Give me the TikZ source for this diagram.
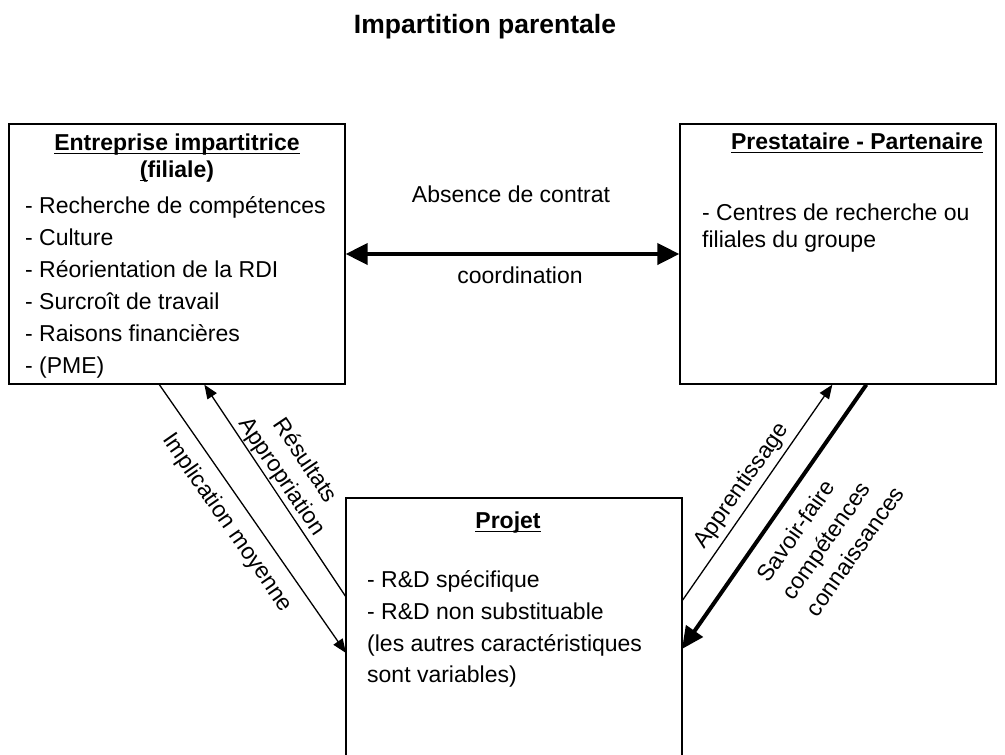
\documentclass[tikz,border=0pt]{standalone}
\usepackage{fontspec}
\setmainfont{Liberation Sans}
\usetikzlibrary{arrows.meta}
\newcommand\myul[1]{\setbox0=\hbox{#1}\rlap{\rule[-4.3pt]{\wd0}{1.8pt}}\box0}
\begin{document}
\begin{tikzpicture}[x=1pt,y=-1pt,
  every node/.style={inner sep=0pt, font=\fontsize{23}{28}\selectfont},
  box/.style={draw, line width=1.3pt, inner sep=0pt},
  txt/.style={anchor=base west},
  hdr/.style={anchor=base, font=\fontsize{23}{28}\selectfont\bfseries},
  thinarrow/.style={line width=1.3pt, -{Triangle[length=14pt,width=11pt]}},
  thickarrow/.style={line width=4pt, -{Triangle[length=22pt,width=20pt]}},
  boththick/.style={line width=4pt, {Triangle[length=22pt,width=21pt]}-{Triangle[length=22pt,width=21pt]}}]
\useasboundingbox (0,0) rectangle (1005,755);
\node[anchor=base, font=\fontsize{26.5}{30}\selectfont\bfseries] (title) at (485,33) {Impartition parentale};

% boxes
\node[box, minimum width=336pt, minimum height=260pt] (ent) at (177,254) {};
\node[box, minimum width=316pt, minimum height=260pt] (pre) at (838,254) {};
\node[inner sep=0pt, outer sep=0pt, minimum width=336pt, minimum height=257pt, anchor=north west] (proj) at (346,498) {};
\draw[line width=1.3pt] (proj.south west) -- (proj.north west) -- (proj.north east) -- (proj.south east);

% left box text
\node[hdr] (entH1) at (177,150) {\myul{Entreprise impartitrice}};
\node[hdr] (entH2) at (177,177) {\myul{(}filiale)};
\foreach \t [count=\i] in {- Recherche de compétences, - Culture, - Réorientation de la RDI, - Surcroît de travail, - Raisons financières, - (PME)}
  \node[txt] (entI\i) at (25,181+32*\i) {\t};

% right box text
\node[hdr] (preH) at (857,149) {\myul{Prestataire - Partenaire}};
\node[txt] (preI1) at (702,220) {- Centres de recherche ou};
\node[txt] (preI2) at (702,247) {filiales du groupe};

% project text
\node[hdr] (projH) at (508,528) {\myul{Projet}};
\node[txt] (projI1) at (367,587) {- R\&D spécifique};
\node[txt] (projI2) at (367,619) {- R\&D non substituable};
\node[txt] (projI3) at (367,651) {(les autres caractéristiques};
\node[txt] (projI4) at (367,682) {sont variables)};

% middle
\node[anchor=base] (abs) at (511,202) {Absence de contrat};
\node[anchor=base] (coord) at (520,283) {coordination};
\draw[boththick] (ent.east) -- (pre.west);

% diagonal arrows
\draw[thinarrow] ([xshift=151pt]ent.south west) -- ([yshift=-155pt]proj.north west);
\draw[thinarrow] ([yshift=-99pt]proj.north west) -- ([xshift=196pt]ent.south west);
\draw[thinarrow] ([yshift=-103pt]proj.north east) -- ([xshift=153pt]pre.south west);
\draw[thickarrow] ([xshift=187pt]pre.south west) -- ([yshift=-151pt]proj.north east);

% labels
\node[rotate=-55.3] (impl) at (227,523) {Implication moyenne};
\node[rotate=-56, align=center] (res) at (293,469) {Résultats\\Appropriation};
\node[rotate=55] (app) at (742,486) {Apprentissage};
\node[rotate=55, align=left, font=\fontsize{23}{30}\selectfont] (sav) at (830,534) {Savoir-faire\\compétences\\connaissances};
\end{tikzpicture}
\end{document}
